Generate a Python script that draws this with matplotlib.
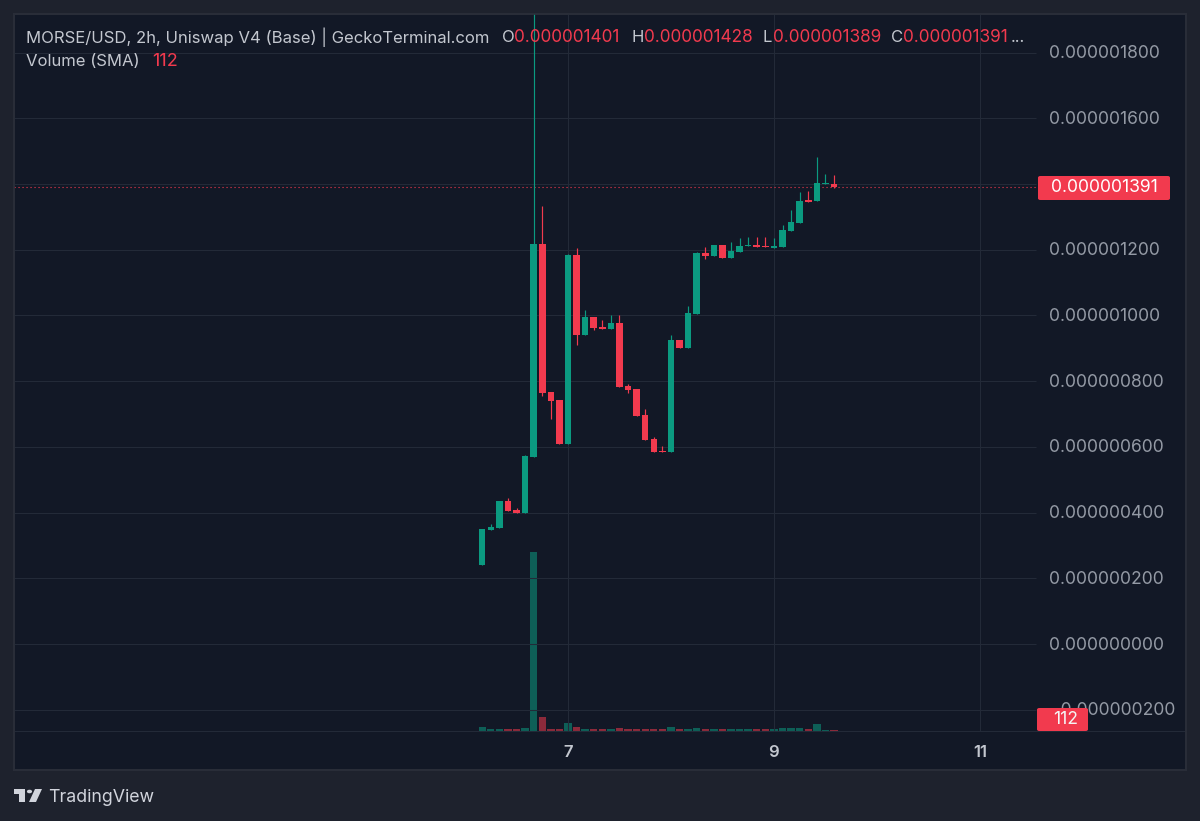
import matplotlib
matplotlib.use("Agg")
from matplotlib import pyplot as plt
from matplotlib.patches import Polygon, Circle, FancyBboxPatch
from matplotlib.transforms import blended_transform_factory

W, H = 1200, 821

# prices are in units of 1e-9 usd
opens = [240, 346, 354, 435, 408, 400, 570, 1218, 768, 743, 610, 1185, 940, 994, 965, 959, 978, 785, 776, 697, 623,
         587, 585, 925, 901, 1005, 1190, 1182, 1214, 1174, 1193, 1212, 1215, 1212, 1205, 1208, 1258, 1282, 1351, 1348,
         1400, 1401]
highs = [349, 364, 435, 443, 414, 575, 1960, 1333, 768, 743, 1188, 1207, 1017, 994, 986, 1000, 1000, 791, 776, 714,
         631, 603, 941, 925, 1030, 1192, 1208, 1214, 1214, 1223, 1236, 1238, 1238, 1239, 1236, 1274, 1321, 1377, 1380,
         1481, 1431, 1428]
lows = [240, 346, 354, 406, 400, 400, 570, 755, 684, 610, 610, 910, 940, 956, 959, 959, 781, 763, 694, 621, 584, 584,
        585, 901, 901, 1005, 1171, 1182, 1174, 1174, 1193, 1212, 1208, 1208, 1205, 1208, 1258, 1282, 1346, 1348, 1400,
        1389]
closes = [349, 357, 435, 406, 400, 572, 1218, 765, 741, 610, 1185, 940, 994, 962, 959, 978, 781, 773, 694, 621, 584,
          584, 925, 901, 1008, 1189, 1181, 1214, 1174, 1195, 1212, 1215, 1208, 1208, 1212, 1260, 1285, 1350, 1346, 1402,
          1403, 1391]
volumes = [450, 170, 170, 190, 170, 300, 20050, 1570, 190, 170, 860, 420, 170, 170, 170, 170, 330, 190, 190, 170, 170,
           170, 420, 200, 170, 300, 170, 170, 200, 170, 170, 170, 170, 170, 170, 300, 300, 300, 170, 780, 150, 112]

price_ticks = [1800, 1600, 1400, 1200, 1000, 800, 600, 400, 200, 0, -200]
price_labels = ["0.000001800", "0.000001600", None, "0.000001200", "0.000001000", "0.000000800", "0.000000600",
                "0.000000400", "0.000000200", "0.000000000", "\u22120.000000200"]
day_ticks = [10, 34, 58]
day_labels = ["7", "9", "11"]

BG = "#1e222d"
PANEL = "#121826"
GRID = "#232a38"
GREEN = "#0b9a80"
RED = "#f23a4e"
TEXT = "#c3c7cf"
AXIS = "#949aa5"

plt.rcParams["font.family"] = ["Inter", "DejaVu Sans"]

fig = plt.figure(figsize=(W / 100, H / 100), dpi=100, facecolor=BG)

# panel box in pixels
left, right, top, bottom = 14, 1186, 14, 770
pos = [left / W, 1 - bottom / H, (right - left) / W, (bottom - top) / H]

step = 8.58
x0 = 482.2
pad_x = (left - x0) / step, (right - x0) / step
end_x = (1036 - x0) / step
px_per_price = 0.3285
y_zero = 644
vol_per_px = 112
base_y = 731

ax_vol = fig.add_axes(pos, facecolor=PANEL)
ax = fig.add_axes(pos, facecolor="none")
for a in (ax, ax_vol):
    a.set_xlim(*pad_x)
    a.set_xticks([])
    a.set_yticks([])
    for s in a.spines.values():
        s.set_color("#2a2e39")
        s.set_linewidth(1.2)
ax.set_ylim((y_zero - bottom) / px_per_price, (y_zero - top) / px_per_price)
ax_vol.set_ylim((base_y - bottom) * vol_per_px, (base_y - top) * vol_per_px)

# grid
ax.hlines(price_ticks, pad_x[0], end_x, color=GRID, lw=0.75, zorder=0)
ax.vlines(day_ticks, (y_zero - base_y) / px_per_price, (y_zero - top) / px_per_price, color=GRID, lw=0.75, zorder=0)
ax_vol.axhline(0, color=GRID, lw=0.75)

xs = list(range(len(opens)))
up = [c >= o for o, c in zip(opens, closes)]
colors = [GREEN if u else RED for u in up]

ax_vol.bar(xs, volumes, width=0.86, color=colors, alpha=0.55, linewidth=0)

min_body = 1.2 / px_per_price
body_low = [min(o, c) for o, c in zip(opens, closes)]
body_h = [max(abs(c - o), min_body) for o, c in zip(opens, closes)]
ax.vlines(xs, lows, highs, colors=colors, lw=0.85, zorder=2)
ax.bar(xs, body_h, bottom=body_low, width=0.76, color=colors, linewidth=0, zorder=3)

# last price line
ax.hlines(closes[-1], pad_x[0], end_x, color=RED, lw=0.8, linestyles=(0, (1, 2.6)), zorder=1)


def px_text(x, y, s, **kw):
    kw.setdefault("va", "center")
    kw.setdefault("ha", "left")
    return fig.text(x / W, 1 - y / H, s, **kw)


def px_rect(x1, y1, x2, y2, color, z=5):
    fig.add_artist(FancyBboxPatch((x1 / W, 1 - y2 / H), (x2 - x1) / W, (y2 - y1) / H,
                                  boxstyle="round,pad=0,rounding_size=0.002", transform=fig.transFigure,
                                  facecolor=color, edgecolor="none", zorder=z))


# price axis
for t, lab in zip(price_ticks, price_labels):
    if lab is None:
        continue
    y = y_zero - t * px_per_price
    px_text(1049, y + 1, lab, color=AXIS, fontsize=12.6, zorder=4)

# day axis
trans = blended_transform_factory(ax.transData, fig.transFigure)
for d, lab in zip(day_ticks, day_labels):
    ax.text(d, 1 - 752 / H, lab, transform=trans, color=TEXT, fontsize=12, fontweight="semibold",
            ha="center", va="center")

# badges
px_rect(1038, 176, 1170, 200, RED)
px_text(1104, 188, "0.000001391", color="white", fontsize=12.6, ha="center", zorder=6)
px_rect(1037, 708, 1088, 731, RED)
px_text(1066, 719.5, "112", color="#f5f5f5", fontsize=12.6, ha="center", zorder=6)

# header
px_text(26, 37, "MORSE/USD, 2h, Uniswap V4 (Base) | GeckoTerminal.com", color=TEXT, fontsize=12)
for lx, letter, vx, val in [(502, "O", 514, "0.000001401"), (632, "H", 644, "0.000001428"),
                            (762, "L", 773, "0.000001389"), (891, "C", 903, "0.000001391")]:
    px_text(lx, 37, letter, color=TEXT, fontsize=12)
    px_text(vx, 37, val, color=RED, fontsize=12.4)
px_text(1011, 37, "...", color=TEXT, fontsize=12)
px_text(26, 61, "Volume (SMA)", color=TEXT, fontsize=12)
px_text(152, 61, "112", color=RED, fontsize=13)

# tradingview logo
LOGO = "#d1d4dc"
def logo_poly(pts):
    fig.add_artist(Polygon([(x / W, 1 - y / H) for x, y in pts], closed=True, transform=fig.transFigure,
                           facecolor=LOGO, edgecolor="none"))

logo_poly([(14, 789), (25, 789), (25, 802), (19, 802), (19, 794), (14, 794)])
logo_poly([(35, 789), (42, 789), (36, 802), (29, 802)])
fig.add_artist(Circle((29.5 / W, 1 - 791.5 / H), 2.6 / W, transform=fig.transFigure, facecolor=LOGO, edgecolor="none"))
px_text(48, 797, "TradingView", color=LOGO, fontsize=12.8)

fig.savefig("out.png", dpi=100, facecolor=BG)
